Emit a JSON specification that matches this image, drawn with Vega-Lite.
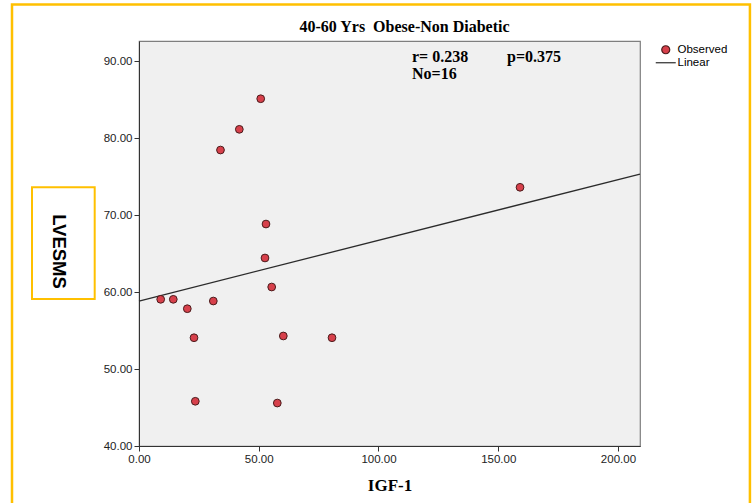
{
  "$schema": "https://vega.github.io/schema/vega-lite/v6.json",
  "width": 501,
  "height": 405,
  "autosize": "none",
  "padding": {"left": 139, "top": 41, "right": 112, "bottom": 57},
  "background": "white",
  "config": {
    "view": {"fill": "#f0f0f0", "stroke": "#7f7f7f", "strokeWidth": 1.2},
    "font": "Liberation Sans",
    "axis": {"grid": false}
  },
  "title": {
    "text": "40-60 Yrs\u00a0 Obese-Non Diabetic",
    "font": "Liberation Serif",
    "fontSize": 16,
    "fontWeight": "bold",
    "color": "#000000",
    "anchor": "middle",
    "frame": "group",
    "offset": 10,
    "dx": 15,
    "dy": 42
  },
  "datasets": {
    "observed": [
      {"IGF": 9.06, "LVESMS": 59.05, "series": "Observed"},
      {"IGF": 14.32, "LVESMS": 59.05, "series": "Observed"},
      {"IGF": 20.17, "LVESMS": 57.83, "series": "Observed"},
      {"IGF": 22.97, "LVESMS": 54.06, "series": "Observed"},
      {"IGF": 23.51, "LVESMS": 45.81, "series": "Observed"},
      {"IGF": 31.03, "LVESMS": 58.83, "series": "Observed"},
      {"IGF": 34.03, "LVESMS": 78.44, "series": "Observed"},
      {"IGF": 41.89, "LVESMS": 81.13, "series": "Observed"},
      {"IGF": 50.82, "LVESMS": 85.10, "series": "Observed"},
      {"IGF": 53.03, "LVESMS": 68.83, "series": "Observed"},
      {"IGF": 52.61, "LVESMS": 64.42, "series": "Observed"},
      {"IGF": 55.41, "LVESMS": 60.65, "series": "Observed"},
      {"IGF": 57.75, "LVESMS": 45.58, "series": "Observed"},
      {"IGF": 60.26, "LVESMS": 54.29, "series": "Observed"},
      {"IGF": 80.59, "LVESMS": 54.06, "series": "Observed"},
      {"IGF": 159.10, "LVESMS": 73.60, "series": "Observed"}
    ],
    "fit": [
      {"IGF": 0, "LVESMS": 58.83, "series": "Linear"},
      {"IGF": 209.2, "LVESMS": 75.32, "series": "Linear"}
    ],
    "notes": [
      {"note": "r= 0.238"}
    ]
  },
  "layer": [
    {
      "data": {"name": "notes"},
      "mark": {"type": "rect", "filled": false, "stroke": "#FFC000", "strokeWidth": 2.5, "clip": false},
      "encoding": {
        "x": {"datum": -53.03, "type": "quantitative", "scale": {"domain": [0, 209.2], "nice": false, "zero": false}},
        "x2": {"datum": 255.1},
        "y": {"datum": 97.34, "type": "quantitative", "scale": {"domain": [40, 92.6], "nice": false, "zero": false}},
        "y2": {"datum": 30.39}
      }
    },
    {
      "data": {"name": "notes"},
      "mark": {"type": "rect", "filled": false, "stroke": "#FFC000", "strokeWidth": 2, "clip": false},
      "encoding": {
        "x": {"datum": -44.68, "type": "quantitative"},
        "x2": {"datum": -18.5},
        "y": {"datum": 73.6, "type": "quantitative"},
        "y2": {"datum": 59.09}
      }
    },
    {
      "data": {"name": "fit"},
      "mark": {"type": "line", "color": "#2b2b2b", "strokeWidth": 1.3},
      "encoding": {
        "x": {"field": "IGF", "type": "quantitative"},
        "y": {"field": "LVESMS", "type": "quantitative"}
      }
    },
    {
      "data": {"name": "observed"},
      "mark": {"type": "point", "filled": true, "size": 60, "strokeWidth": 1, "opacity": 1},
      "encoding": {
        "x": {
          "field": "IGF",
          "type": "quantitative",
          "scale": {"domain": [0, 209.2], "nice": false, "zero": false},
          "axis": {
            "title": "IGF-1",
            "values": [0, 50, 100, 150, 200],
            "format": ".2f",
            "labelFlush": false,
            "labelFont": "Liberation Sans",
            "labelFontSize": 11.5,
            "labelColor": "#222222",
            "tickSize": 5,
            "tickColor": "#333333",
            "domainColor": "#333333",
            "labelPadding": 2,
            "titleFont": "Liberation Serif",
            "titleFontSize": 17,
            "titleFontWeight": "bold",
            "titleColor": "#000000",
            "titleBaseline": "middle",
            "titleY": 39
          }
        },
        "y": {
          "field": "LVESMS",
          "type": "quantitative",
          "scale": {"domain": [40, 92.6], "nice": false, "zero": false},
          "axis": {
            "title": "LVESMS",
            "values": [40, 50, 60, 70, 80, 90],
            "format": ".2f",
            "labelFlush": false,
            "labelFont": "Liberation Sans",
            "labelFontSize": 11.5,
            "labelColor": "#222222",
            "tickSize": 5,
            "tickColor": "#333333",
            "domainColor": "#333333",
            "labelPadding": 2,
            "titleFont": "Liberation Sans",
            "titleFontSize": 18.5,
            "titleFontWeight": "bold",
            "titleColor": "#000000",
            "titleAngle": 90,
            "titleAlign": "center",
            "titleBaseline": "middle",
            "titleX": -81,
            "titleY": 210
          }
        },
        "shape": {
          "field": "series",
          "type": "nominal",
          "scale": {"domain": ["Observed", "Linear"], "range": ["circle", "M-2.5,0L2.5,0"]},
          "legend": {"title": null, "orient": "none", "legendX": 521, "legendY": 3, "padding": 0, "labelOffset": 6, "rowPadding": -1, "symbolSize": 64, "symbolStrokeWidth": 1.2, "labelFont": "Liberation Sans", "labelFontSize": 11.5, "labelColor": "#000000"}
        },
        "fill": {
          "field": "series",
          "type": "nominal",
          "scale": {"domain": ["Observed", "Linear"], "range": ["#d7404b", "transparent"]},
          "legend": {"title": null, "orient": "none", "legendX": 521, "legendY": 3, "padding": 0, "labelOffset": 6, "rowPadding": -1, "symbolSize": 64, "symbolStrokeWidth": 1.2, "labelFont": "Liberation Sans", "labelFontSize": 11.5, "labelColor": "#000000"}
        },
        "stroke": {
          "field": "series",
          "type": "nominal",
          "scale": {"domain": ["Observed", "Linear"], "range": ["#4a1c1c", "#2b2b2b"]},
          "legend": {"title": null, "orient": "none", "legendX": 521, "legendY": 3, "padding": 0, "labelOffset": 6, "rowPadding": -1, "symbolSize": 64, "symbolStrokeWidth": 1.2, "labelFont": "Liberation Sans", "labelFontSize": 11.5, "labelColor": "#000000"}
        }
      }
    },
    {
      "data": {"name": "notes"},
      "mark": {"type": "text", "font": "Liberation Serif", "fontSize": 16, "fontWeight": "bold", "align": "left", "baseline": "middle", "color": "#000000"},
      "encoding": {
        "x": {"datum": 114.0, "type": "quantitative"},
        "y": {"datum": 90.52, "type": "quantitative"},
        "text": {"field": "note"}
      }
    },
    {
      "data": {"name": "notes"},
      "mark": {"type": "text", "font": "Liberation Serif", "fontSize": 16, "fontWeight": "bold", "align": "left", "baseline": "middle", "color": "#000000"},
      "encoding": {
        "x": {"datum": 153.67, "type": "quantitative"},
        "y": {"datum": 90.52, "type": "quantitative"},
        "text": {"value": "p=0.375"}
      }
    },
    {
      "data": {"name": "notes"},
      "mark": {"type": "text", "font": "Liberation Serif", "fontSize": 16, "fontWeight": "bold", "align": "left", "baseline": "middle", "color": "#000000"},
      "encoding": {
        "x": {"datum": 114.0, "type": "quantitative"},
        "y": {"datum": 88.3, "type": "quantitative"},
        "text": {"value": "No=16"}
      }
    }
  ]
}
